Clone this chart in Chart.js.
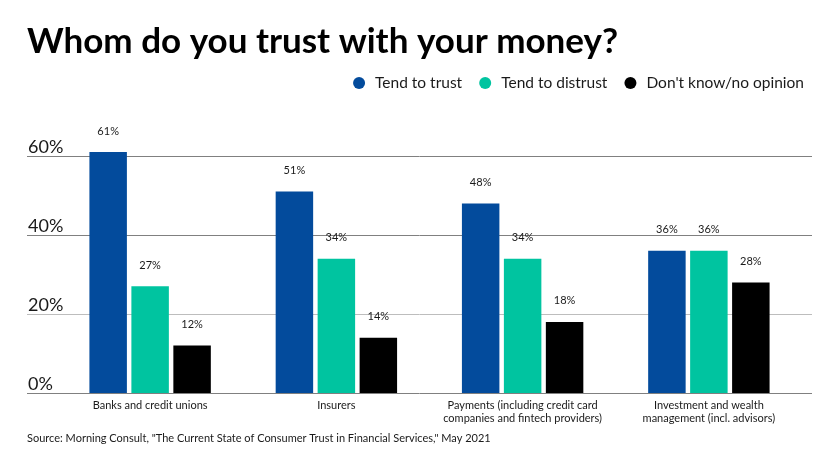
<!DOCTYPE html>
<html>
<head>
<meta charset="utf-8">
<script src="https://cdn.jsdelivr.net/npm/chart.js@4"></script>
<style>
  html, body { margin: 0; padding: 0; background: #fff; }
  #wrap { position: relative; width: 840px; height: 472px; }
</style>
</head>
<body>
<div id="wrap"><canvas id="barChart"></canvas></div>
<script>
const categories = [
  'Banks and credit unions',
  'Insurers',
  ['Payments (including credit card', 'companies and fintech providers)'],
  ['Investment and wealth', 'management (incl. advisors)']
];
const seriesNames = ['Tend to trust', 'Tend to distrust', "Don't know/no opinion"];
const trustValues = [61, 51, 48, 36];
const distrustValues = [27, 34, 34, 36];
const dontKnowValues = [12, 14, 18, 28];
const yTicks = [0, 20, 40, 60];

const colors = ['#034b9c', '#00c4a0', '#000000'];
const gridColors = ['#808080', '#bdbdbd', '#808080', '#808080'];
const FONT = 'Lato, "Noto Sans", sans-serif';
const TEXT = '#1a1a1a';

// gridlines + y labels, wider than the plot area
const gridPlugin = {
  id: 'grid',
  beforeDatasetsDraw(chart) {
    const ctx = chart.ctx;
    const y = chart.scales.y;
    ctx.save();
    yTicks.forEach((v, i) => {
      const py = Math.round(y.getPixelForValue(v)) + 0.5;
      ctx.strokeStyle = gridColors[i];
      ctx.lineWidth = 1;
      ctx.beginPath();
      ctx.moveTo(27, py);
      ctx.lineTo(812, py);
      ctx.stroke();
      ctx.fillStyle = TEXT;
      ctx.font = '18px ' + FONT;
      ctx.textAlign = 'left';
      ctx.textBaseline = 'alphabetic';
      ctx.fillText(v + '%', 28, py - 3.5);
    });
    ctx.restore();
  }
};

// value labels, title, legend, source
const textPlugin = {
  id: 'texts',
  afterDatasetsDraw(chart) {
    const ctx = chart.ctx;
    ctx.save();
    ctx.fillStyle = TEXT;
    ctx.font = '11px ' + FONT;
    ctx.textAlign = 'center';
    ctx.textBaseline = 'middle';
    chart.data.datasets.forEach((ds, di) => {
      chart.getDatasetMeta(di).data.forEach((bar, i) => {
        ctx.fillText(ds.data[i] + '%', bar.x, bar.y - 21);
      });
    });

    ctx.textAlign = 'left';
    ctx.textBaseline = 'alphabetic';
    ctx.fillStyle = '#000';
    ctx.font = 'bold 35px ' + FONT;
    ctx.fillText('Whom do you trust with your money?', 27, 53);

    // legend, right aligned
    ctx.font = '15.5px ' + FONT;
    ctx.textBaseline = 'middle';
    let x = 804;
    const items = seriesNames.map((n, i) => ({ n, c: colors[i], w: ctx.measureText(n).width }));
    for (let i = items.length - 1; i >= 0; i--) {
      const it = items[i];
      const tx = x - it.w;
      ctx.fillStyle = TEXT;
      ctx.fillText(it.n, tx, 83);
      ctx.fillStyle = it.c;
      ctx.beginPath();
      ctx.arc(tx - 16, 83, 6, 0, Math.PI * 2);
      ctx.fill();
      x = tx - 39;
    }

    ctx.fillStyle = TEXT;
    ctx.font = '11px ' + FONT;
    ctx.textBaseline = 'middle';
    ctx.fillText('Source: Morning Consult, "The Current State of Consumer Trust in Financial Services," May 2021', 27, 438);
    ctx.restore();
  }
};

const data = {
  labels: categories,
  datasets: [
    { label: seriesNames[0], data: trustValues, backgroundColor: colors[0] },
    { label: seriesNames[1], data: distrustValues, backgroundColor: colors[1] },
    { label: seriesNames[2], data: dontKnowValues, backgroundColor: colors[2] }
  ]
};

new Chart(document.getElementById('barChart').getContext('2d'), {
  type: 'bar',
  data: data,
  options: {
    responsive: true,
    maintainAspectRatio: false,
    animation: false,
    categoryPercentage: 0.676,
    barPercentage: 0.893,
    layout: { padding: { left: 57, right: 38, top: 116.5, bottom: 0 } },
    plugins: {
      legend: { display: false },
      title: { display: false },
      tooltip: { enabled: false }
    },
    scales: {
      x: {
        grid: { display: false, drawTicks: false },
        border: { display: false },
        ticks: {
          color: TEXT,
          padding: 6,
          maxRotation: 0,
          autoSkip: false,
          font: { family: FONT, size: 11, lineHeight: 1.2 }
        },
        afterFit(axis) { axis.height = 79; }
      },
      y: {
        display: false,
        min: 0,
        max: 70
      }
    }
  },
  plugins: [gridPlugin, textPlugin]
});
</script>
</body>
</html>
